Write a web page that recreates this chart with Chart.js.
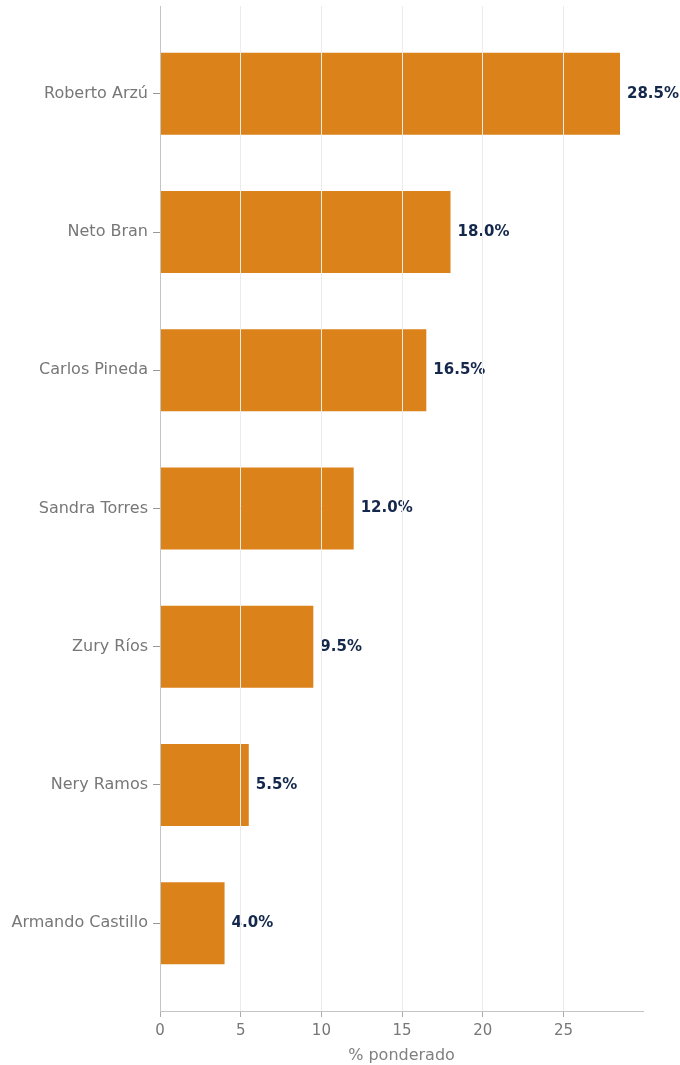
<!DOCTYPE html>
<html>
<head>
<meta charset="utf-8">
<script src="https://cdn.jsdelivr.net/npm/chart.js@4"></script>
<style>
  html, body { margin: 0; padding: 0; background: #fff; }
  #wrap { width: 680px; height: 1065px; }
</style>
</head>
<body>
<div id="wrap"><canvas id="chart"></canvas></div>
<script>
const candidates = ["Roberto Arzú", "Neto Bran", "Carlos Pineda", "Sandra Torres", "Zury Ríos", "Nery Ramos", "Armando Castillo"];
const weighted = [28.5, 18.0, 16.5, 12.0, 9.5, 5.5, 4.0];
const xTicks = [0, 5, 10, 15, 20, 25];

const FONT = "'DejaVu Sans', sans-serif";

// Draw the value label to the right of each bar.
const valueLabels = {
    id: "valueLabels",
    afterDatasetsDraw(chart) {
        const {ctx} = chart;
        ctx.save();
        ctx.font = "bold 15px " + FONT;
        ctx.fillStyle = "#14284b";
        ctx.textBaseline = "middle";
        chart.getDatasetMeta(0).data.forEach((bar, i) => {
            ctx.fillText(weighted[i].toFixed(1) + "%", bar.x + 7, bar.y);
        });
        ctx.restore();
    }
};

new Chart(document.getElementById("chart"), {
    type: "bar",
    data: {
        datasets: [{
            data: weighted.map((v, i) => ({x: v, y: i})),
            backgroundColor: "#db821a",
            borderWidth: 0,
            categoryPercentage: 1,
            barPercentage: 0.593,
        }]
    },
    options: {
        indexAxis: "y",
        responsive: true,
        maintainAspectRatio: false,
        animation: false,
        layout: {padding: {top: 6, right: 37, left: 0, bottom: 0}},
        plugins: {
            legend: {display: false},
            tooltip: {enabled: false},
        },
        scales: {
            x: {
                type: "linear",
                min: 0,
                max: 29.925,
                afterBuildTicks: axis => { axis.ticks = xTicks.map(v => ({value: v})); },
                afterFit: axis => { axis.height = 54; axis.paddingRight = 0; },
                grid: {color: "#ebebeb", lineWidth: 1, tickColor: "#aaaaaa", tickLength: 6, z: 1},
                border: {display: true, color: "#c4c4c4", z: 2},
                ticks: {color: "#777777", font: {family: FONT, size: 15}, padding: 5},
                title: {display: true, text: "% ponderado", color: "#808080", font: {family: FONT, size: 16}, padding: {top: 0, bottom: 0}},
            },
            y: {
                type: "linear",
                reverse: true,
                offset: false,
                min: -0.635,
                max: 6.635,
                afterBuildTicks: axis => { axis.ticks = candidates.map((_, i) => ({value: i})); },
                afterFit: axis => { axis.width = 160; axis.paddingTop = 0; axis.paddingBottom = 0; },
                grid: {drawOnChartArea: false, offset: false, tickColor: "#999999", tickLength: 7},
                border: {display: true, color: "#c4c4c4", z: 2},
                ticks: {
                    color: "#777777",
                    font: {family: FONT, size: 16},
                    padding: 5,
                    callback: v => candidates[v],
                },
            }
        }
    },
    plugins: [valueLabels],
});
</script>
</body>
</html>
